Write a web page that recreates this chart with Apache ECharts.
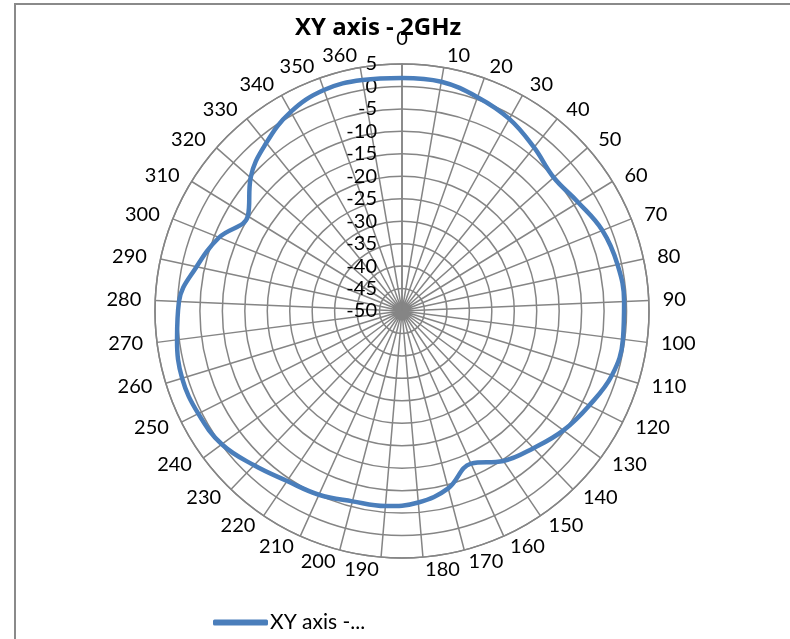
<!DOCTYPE html>
<html>
<head>
<meta charset="utf-8">
<script src="https://cdn.jsdelivr.net/npm/echarts@6/dist/echarts.min.js"></script>
<style>
html,body{margin:0;padding:0;background:#fff;}
#chart{width:790px;height:639px;}
</style>
</head>
<body>
<div id="chart"></div>
<script>
// Angle categories (degrees) shown around the radar
const angleLabels = ['0','10','20','30','40','50','60','70','80','90','100','110','120','130','140','150','160','170','180','190','200','210','220','230','240','250','260','270','280','290','300','310','320','330','340','350','360'];
// Gain values (dB), one per angle category
const gainValues = [1.9, 1.8, 0.5, -1.0, -3.2, -5.0, -3.9, -1.9, -0.9, -0.5, -0.4, -1.1, -3.3, -5.3, -7.7, -9.7, -12.7, -9.2, -7.2, -6.4, -6.2, -5.1, -4.3, -2.4, -0.1, 0.8, 1.2, 0.5, -0.3, -3.2, -6.1, -9.7, -5.1, -1.9, 0.8, 2.2, 2.2];
// Radial tick values
const radialTicks = [-50, -45, -40, -35, -30, -25, -20, -15, -10, -5, 0, 5];
const seriesName = 'XY axis - 2GHz';
const legendLabel = 'XY axis -...';

const N = angleLabels.length;
const data = gainValues.map((v, i) => [v, i]);
data.push([gainValues[0], N]); // close the loop back to the first spoke

const font = 'Lato, "Liberation Sans", sans-serif';
const labelSize = 20;
const gridColor = '#858585';

// Excel-like placement of the angle labels: box beside the spoke end,
// horizontal gap growing with |sin|, vertical shift along cos.
const ctx = document.createElement('canvas').getContext('2d');
ctx.font = labelSize + 'px ' + font;
const rich = {};
angleLabels.forEach((lab, k) => {
  const th = k * 2 * Math.PI / N;
  const s = Math.sin(th), c = Math.cos(th);
  const w = ctx.measureText(lab).width;
  const gap = 13 * Math.abs(s) + 1;
  const dx = Math.abs(s) < 1e-6 ? 0 : Math.sign(s) * (gap + w / 2);
  const dy = k === 0 ? -25 : -12 * c;
  const st = {fontFamily: font, fontSize: labelSize, color: '#000', lineHeight: 20};
  const pad = [0, 0, 0, 0];
  const hAlign = Math.abs(s) < 0.3 ? 'center' : (s > 0 ? 'left' : 'right');
  const vAlign = Math.abs(c) < 0.3 ? 'middle' : (c > 0 ? 'bottom' : 'top');
  if (hAlign === 'left') pad[3] = dx - w / 2;
  else if (hAlign === 'right') pad[1] = -dx - w / 2;
  else if (dx > 0) pad[3] = 2 * dx; else pad[1] = -2 * dx;
  if (vAlign === 'bottom') st.lineHeight = -2 * dy;
  else if (vAlign === 'top') st.lineHeight = 2 * dy;
  else if (dy < 0) pad[2] = -2 * dy; else pad[0] = 2 * dy;
  st.padding = pad;
  rich['a' + k] = st;
});

const chart = echarts.init(document.getElementById('chart'));
chart.setOption({
  backgroundColor: '#ffffff',
  animation: false,
  title: {
    text: seriesName,
    left: 290, top: 11,
    textStyle: {fontFamily: '"Open Sans", Lato, sans-serif', fontSize: 24, fontWeight: 'bold', color: '#000'}
  },
  legend: {
    left: 213, top: 612, padding: 0,
    icon: 'roundRect',
    itemWidth: 55, itemHeight: 6,
    itemGap: 4,
    formatter: () => legendLabel,
    textStyle: {fontFamily: font, fontSize: 21, color: '#000', padding: [0, 0, 0, -3]},
    data: [seriesName]
  },
  graphic: [{
    type: 'rect', silent: true, z: -1,
    shape: {x: 15, y: 4, width: 900, height: 800},
    style: {fill: 'none', stroke: '#8a8a8a', lineWidth: 2}
  }],
  polar: {center: [402, 311], radius: 247},
  angleAxis: {
    type: 'value', min: 0, max: N, interval: 1,
    startAngle: 90, clockwise: true,
    axisLine: {show: true, lineStyle: {color: gridColor, width: 1.5}},
    axisTick: {show: false},
    splitLine: {show: true, lineStyle: {color: gridColor, width: 1.5}},
    axisLabel: {
      margin: 0,
      fontFamily: font, fontSize: labelSize, color: '#000',
      rich: rich,
      formatter: v => (v < N ? '{a' + v + '|' + angleLabels[v] + '}' : '')
    }
  },
  radiusAxis: {
    type: 'value', min: radialTicks[0], max: radialTicks[radialTicks.length - 1], interval: 5,
    axisLine: {show: true, lineStyle: {color: gridColor, width: 1.5}},
    axisTick: {show: false},
    splitLine: {show: true, lineStyle: {color: gridColor, width: 1.5}},
    axisLabel: {
      fontFamily: font, fontSize: 20, color: '#000', margin: 25, align: 'right'
    }
  },
  series: [{
    name: seriesName,
    type: 'line',
    coordinateSystem: 'polar',
    data: data,
    smooth: 0.4,
    symbol: 'none',
    lineStyle: {color: '#4a7ebb', width: 4.5},
    itemStyle: {color: '#4a7ebb'}
  }]
});
</script>
</body>
</html>
